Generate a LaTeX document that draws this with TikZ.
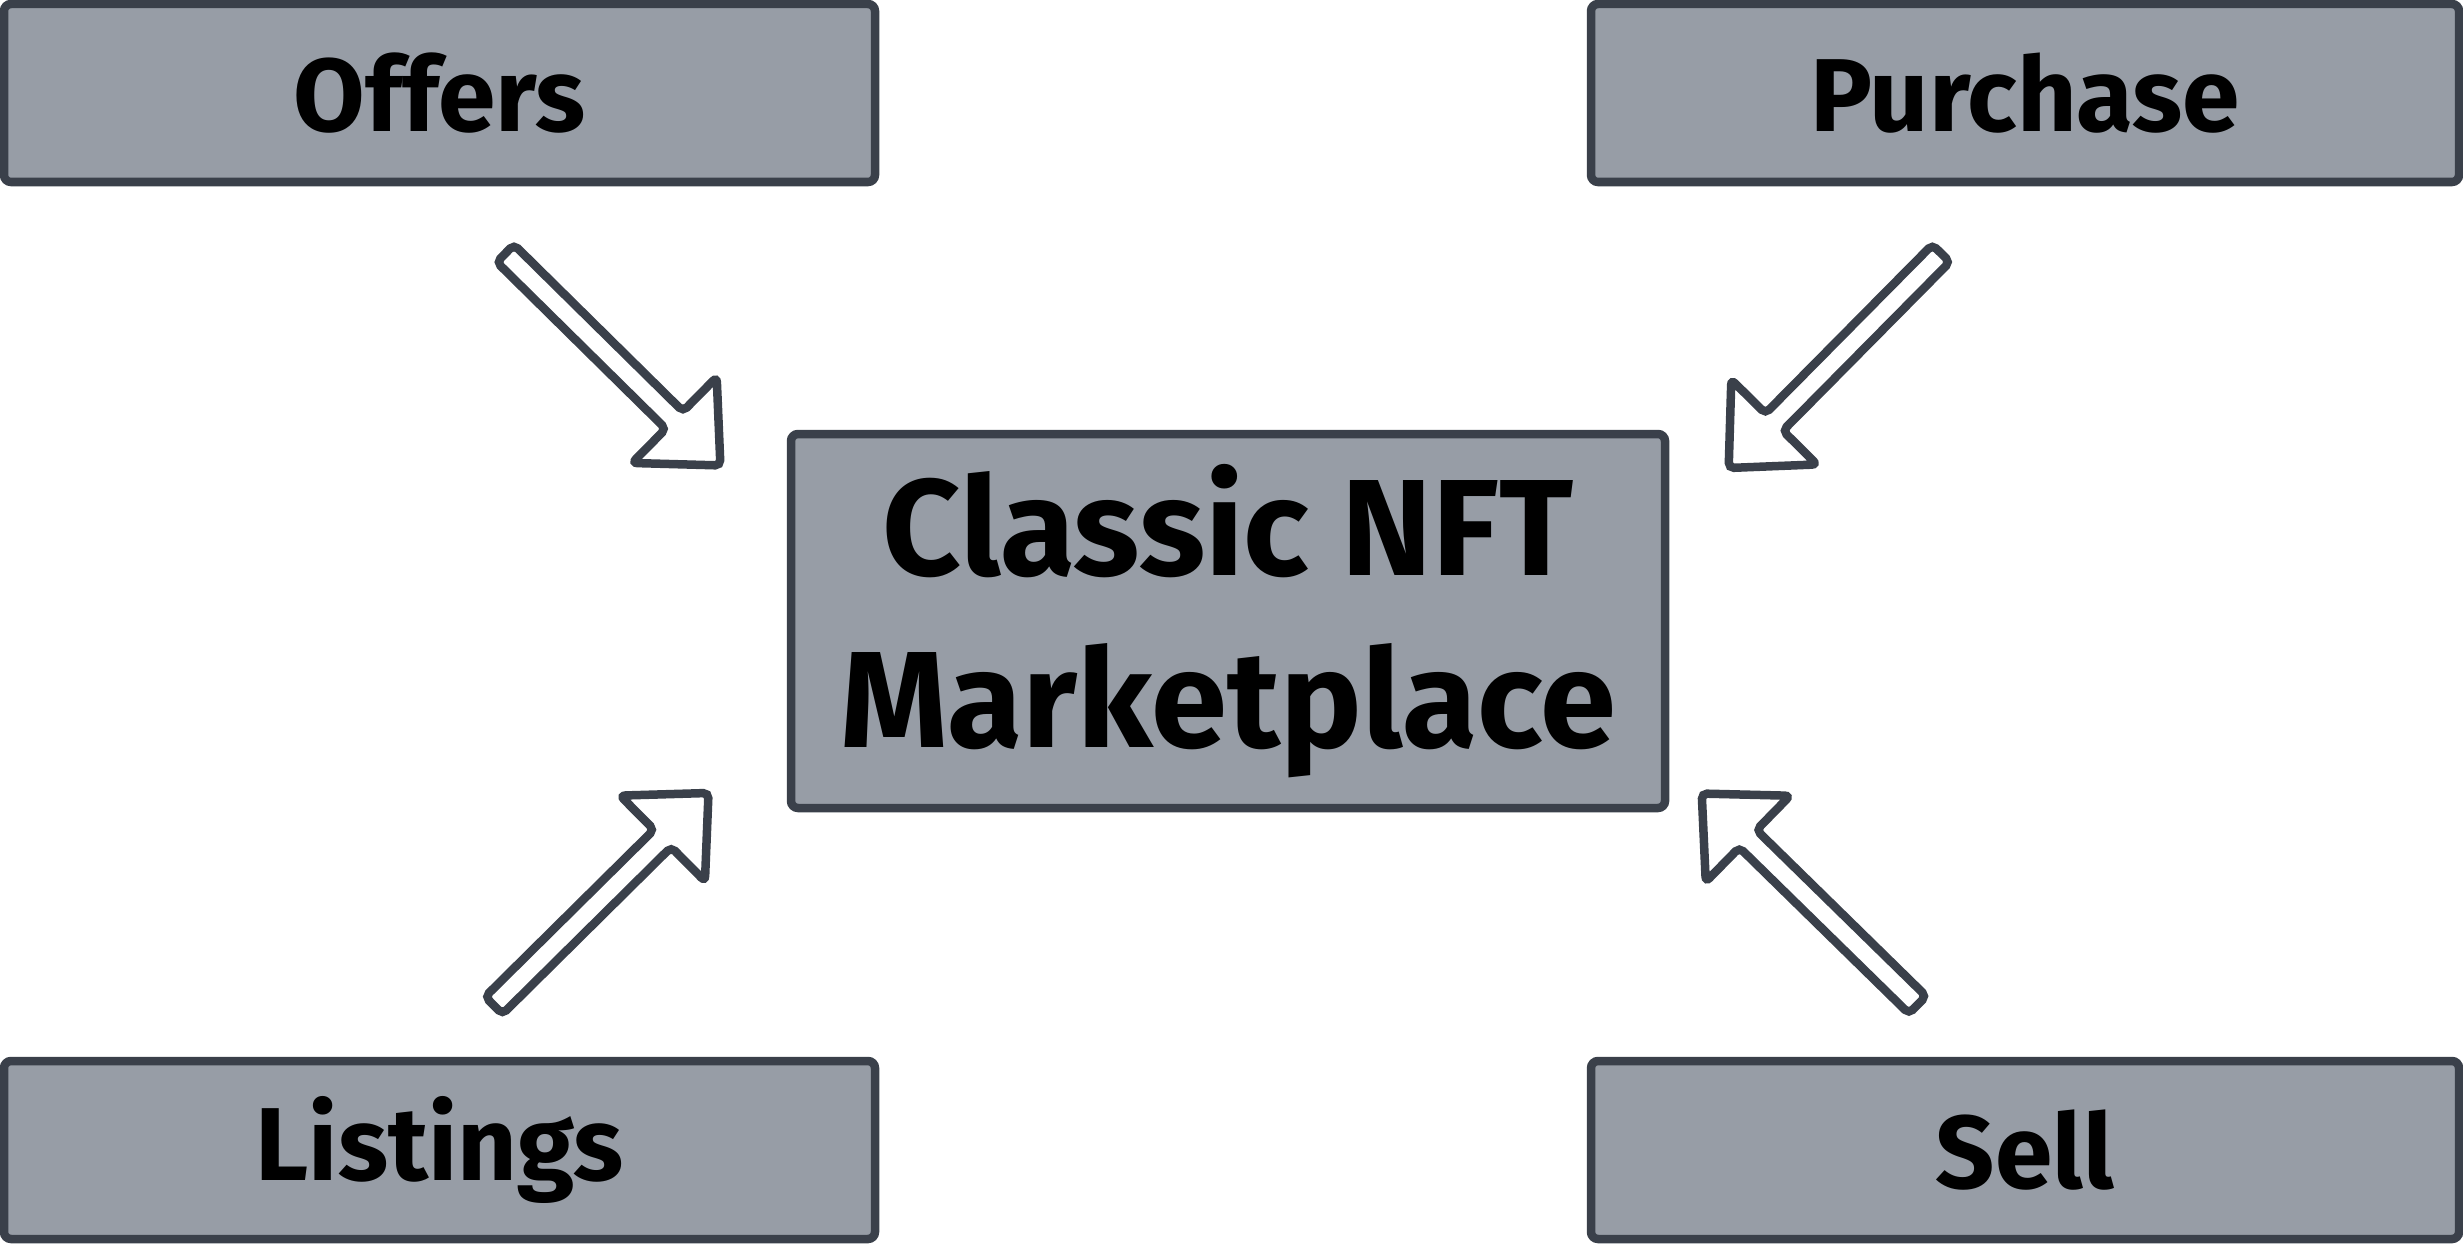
\documentclass[tikz,border=0pt]{standalone}
\usepackage{fontspec}
\setmainfont{Fira Sans}
\usetikzlibrary{shapes.arrows}
\definecolor{boxfill}{HTML}{979DA6}
\definecolor{boxline}{HTML}{3A404A}
\tikzset{
    box/.style={draw=boxline,fill=boxfill,line width=0.085cm,rounded corners=2pt,
        inner sep=0pt,minimum width=8.71cm,minimum height=1.78cm,
        font=\fontsize{29.5}{36}\selectfont\bfseries},
    blockarrow/.style={single arrow,draw=boxline,fill=white,line width=0.085cm,
        rounded corners=1.5pt,inner sep=0.08cm,minimum width=0pt,minimum height=3.02cm,
        single arrow head extend=0.48cm,single arrow tip angle=86}
}
\begin{document}
\begin{tikzpicture}
    \useasboundingbox (0,0) rectangle (24.63,12.43);
    \node[box] (offers) at (4.395,11.50) {Offers};
    \node[box,minimum width=8.68cm] (purchase) at (20.25,11.50) {Purchase};
    \node[box] (listings) at (4.395,0.93) {Listings};
    \node[box,minimum width=8.68cm] (sell) at (20.25,0.93) {Sell};
    \node[box,minimum width=8.74cm,minimum height=3.74cm,align=center,
        font=\fontsize{39}{49}\selectfont\bfseries] (market) at (12.28,6.22) {Classic NFT\\Marketplace};
    \node[blockarrow,rotate=-44.6] (offersarrow) at (6.082,8.882) {};
    \node[blockarrow,rotate=-134.7] (purchasearrow) at (18.395,8.87) {};
    \node[blockarrow,rotate=44.7] (listingsarrow) at (5.965,3.392) {};
    \node[blockarrow,rotate=135.6] (sellarrow) at (18.143,3.392) {};
\end{tikzpicture}
\end{document}
